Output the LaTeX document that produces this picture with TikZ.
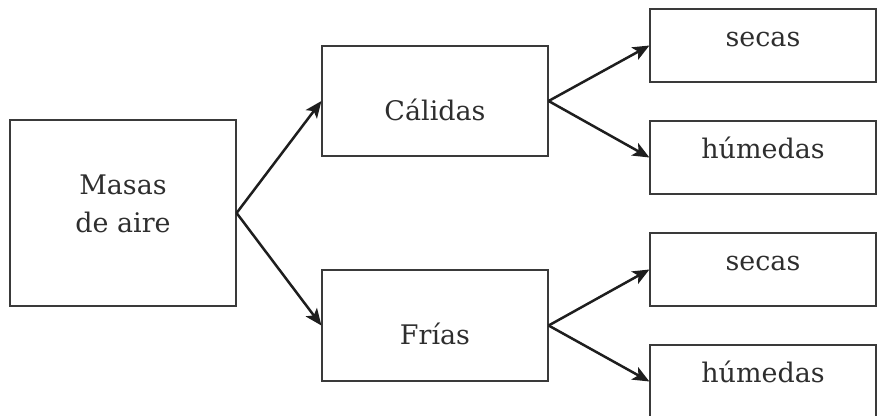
\documentclass[tikz,border=0pt]{standalone}
\usepackage{fontspec}
\setmainfont{DejaVu Serif}
\usepackage{tikz}
\usetikzlibrary{arrows.meta}
\definecolor{trazo}{HTML}{3A3A3A}
\definecolor{flecha}{HTML}{1E1E1E}
\definecolor{letra}{HTML}{2E2E2E}

\begin{document}
\begin{tikzpicture}[x=0.03cm,y=-0.03cm,
    caja/.style={draw=trazo,line width=0.036cm,inner sep=0pt,minimum width=6.78cm,text=letra,font=\fontsize{23}{31.6}\selectfont},
    chica/.style={caja,text height=1.125cm,text depth=1.065cm},
    flechita/.style={-{Stealth[length=0.5cm,width=0.42cm,inset=0.12cm]},draw=flecha,line width=0.075cm}]
    \useasboundingbox (0,0) rectangle (877,415);
    % columnas de cajas
    \node[caja,align=center,text height=3.36cm,text depth=2.22cm] (masas) at (123,213) {Masas\\de aire};
    \node[caja,text height=2.22cm,text depth=1.08cm] (calidas) at (435,101) {Cálidas};
    \node[caja,text height=2.22cm,text depth=1.11cm] (frias) at (435,325.5) {Frías};
    \node[chica] (secasA) at (763,45.5) {secas};
    \node[chica] (humedasA) at (763,157.5) {húmedas};
    \node[chica] (secasB) at (763,269.5) {secas};
    \node[chica] (humedasB) at (763,381.5) {húmedas};
    % flechas
    \draw[flechita] (masas.east) -- (calidas.west);
    \draw[flechita] (masas.east) -- (frias.west);
    \draw[flechita] (calidas.east) -- (secasA.west);
    \draw[flechita] (calidas.east) -- (humedasA.west);
    \draw[flechita] (frias.east) -- (secasB.west);
    \draw[flechita] (frias.east) -- (humedasB.west);
\end{tikzpicture}
\end{document}
